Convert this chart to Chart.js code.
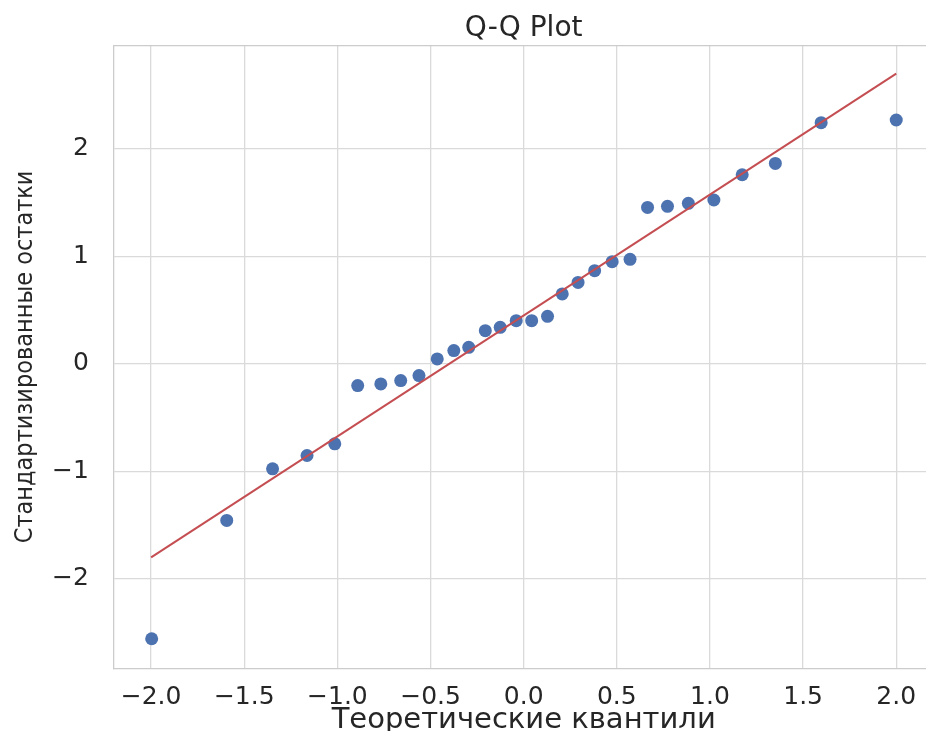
<!DOCTYPE html>
<html>
<head>
<meta charset="utf-8">
<script src="https://cdn.jsdelivr.net/npm/chart.js"></script>
<style>
  html, body { margin: 0; padding: 0; background: #fff; overflow: hidden; }
  #wrap { width: 940px; height: 745px; }
</style>
</head>
<body>
<div id="wrap"><canvas id="qq"></canvas></div>
<script>
// theoretical quantiles (x) and standardized residuals (y)
const theoreticalQuantiles = [
  -1.997, -1.594, -1.348, -1.163, -1.014, -0.891, -0.767, -0.660, -0.562, -0.464,
  -0.375, -0.295, -0.206, -0.126, -0.040, 0.043, 0.128, 0.207, 0.292, 0.381,
  0.475, 0.571, 0.665, 0.772, 0.884, 1.021, 1.173, 1.351, 1.597, 2.000
];
const standardizedResiduals = [
  -2.556, -1.456, -0.976, -0.852, -0.743, -0.202, -0.186, -0.155, -0.109, 0.046,
  0.124, 0.154, 0.309, 0.340, 0.402, 0.402, 0.442, 0.651, 0.758, 0.867,
  0.951, 0.972, 1.455, 1.465, 1.493, 1.524, 1.759, 1.864, 2.243, 2.268
];

// reference line
const fitLineX = [-2.0, 2.0];
const fitLineY = [-1.80, 2.70];

const xTickValues = [-2.0, -1.5, -1.0, -0.5, 0.0, 0.5, 1.0, 1.5, 2.0];
const xTickLabels = ["\u22122.0", "\u22121.5", "\u22121.0", "\u22120.5", "0.0", "0.5", "1.0", "1.5", "2.0"];
const yTickValues = [-2, -1, 0, 1, 2];
const yTickLabels = ["\u22122", "\u22121", "0", "1", "2"];

const textColor = "#262626";
const gridColor = "#dadada";
const edgeColor = "#cccccc";

const scatterPoints = theoreticalQuantiles.map((x, i) => ({ x: x, y: standardizedResiduals[i] }));
const linePoints = fitLineX.map((x, i) => ({ x: x, y: fitLineY[i] }));

new Chart(document.getElementById("qq").getContext("2d"), {
  type: "scatter",
  data: {
    datasets: [
      {
        type: "line",
        data: linePoints,
        borderColor: "#c44e52",
        borderWidth: 2,
        pointRadius: 0,
        fill: false,
        order: 0
      },
      {
        type: "scatter",
        data: scatterPoints,
        backgroundColor: "#4c72b0",
        borderWidth: 0,
        pointRadius: 6.5,
        order: 1
      }
    ]
  },
  options: {
    responsive: true,
    maintainAspectRatio: false,
    animation: false,
    layout: { padding: { left: 0, right: 3, top: 0, bottom: 0 } },
    plugins: {
      legend: { display: false },
      tooltip: { enabled: false },
      title: {
        display: true,
        fullSize: false,
        text: "Q-Q Plot",
        color: textColor,
        font: { family: "DejaVu Sans", size: 28, weight: "normal" },
        padding: { top: 12, bottom: 0 }
      }
    },
    scales: {
      x: {
        type: "linear",
        position: "bottom",
        min: -2.2,
        max: 2.2,
        afterBuildTicks: (scale) => { scale.ticks = xTickValues.map(v => ({ value: v })); },
        ticks: {
          color: textColor,
          font: { family: "DejaVu Sans", size: 25, lineHeight: 1.0 },
          padding: 17,
          maxRotation: 0,
          autoSkip: false,
          callback: (value, index) => xTickLabels[index]
        },
        grid: { color: gridColor, lineWidth: 1.3, drawTicks: false },
        border: { display: true, color: edgeColor, width: 1.3 },
        title: {
          display: true,
          text: "Теоретические квантили",
          color: textColor,
          font: { family: "DejaVu Sans", size: 29 },
          padding: { top: -24, bottom: 7 }
        }
      },
      x2: {
        type: "linear",
        position: "top",
        min: -2.2,
        max: 2.2,
        ticks: { display: false },
        grid: { display: false, drawTicks: false },
        border: { display: true, color: edgeColor, width: 1.3 }
      },
      y: {
        type: "linear",
        position: "left",
        min: -2.83,
        max: 2.96,
        afterBuildTicks: (scale) => { scale.ticks = yTickValues.map(v => ({ value: v })); },
        ticks: {
          color: textColor,
          font: { family: "DejaVu Sans", size: 25 },
          padding: 25,
          callback: (value, index) => yTickLabels[index]
        },
        grid: { color: gridColor, lineWidth: 1.3, drawTicks: false },
        border: { display: true, color: edgeColor, width: 1.3 },
        title: {
          display: true,
          text: "Стандартизированные остатки",
          color: textColor,
          font: { family: "'DejaVu Sans Condensed', sans-serif", size: 25 },
          padding: { top: 10, bottom: -13 }
        }
      }
    }
  }
});
</script>
</body>
</html>
